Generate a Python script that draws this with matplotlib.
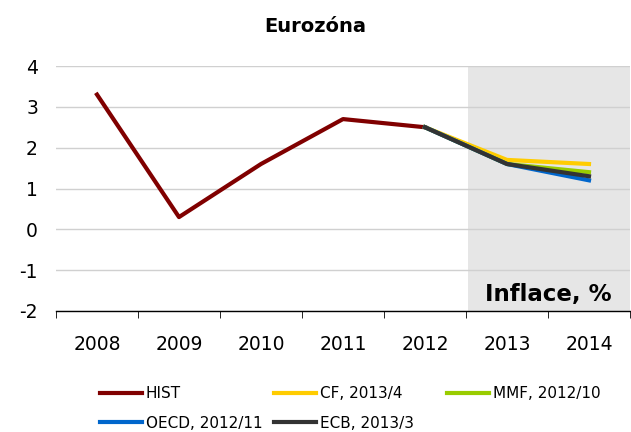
import matplotlib
matplotlib.use("Agg")
import matplotlib.pyplot as plt

years = ["2008", "2009", "2010", "2011", "2012", "2013", "2014"]
hist = [3.3, 0.3, 1.6, 2.7, 2.5]
fc_years = ["2012", "2013", "2014"]
cf = [2.5, 1.7, 1.6]
mmf = [2.5, 1.6, 1.4]
oecd = [2.5, 1.6, 1.2]
ecb = [2.5, 1.6, 1.3]

plt.rcParams['font.family'] = ['DejaVu Sans']

fig = plt.figure(figsize=(6.31, 4.32), dpi=100)
ax = fig.add_axes([56/631, 1-311/432, (630-56)/631, (311-66)/432])

x = list(range(len(years)))
xf = [years.index(y) for y in fc_years]

ax.axvspan(4.52, 6.5, color="#e6e6e6", zorder=0, lw=0)

lw = 3
h_hist, = ax.plot(x[:len(hist)], hist, color="#800000", lw=lw, label="HIST", zorder=3)
h_cf, = ax.plot(xf, cf, color="#ffcc00", lw=lw, label="CF, 2013/4", zorder=4)
h_mmf, = ax.plot(xf, mmf, color="#99cc00", lw=lw, label="MMF, 2012/10", zorder=5)
h_oecd, = ax.plot(xf, oecd, color="#0066cc", lw=lw, label="OECD, 2012/11", zorder=6)
h_ecb, = ax.plot(xf, ecb, color="#333333", lw=lw, label="ECB, 2013/3", zorder=7)

ax.set_xlim(-0.5, 6.5)
ax.set_ylim(-2, 4)
ax.set_yticks(range(-2, 5))
ax.set_yticklabels([str(v) for v in range(-2, 5)])
ax.yaxis.grid(True, color="#d0d0d0", lw=1)
ax.set_axisbelow(True)
ax.tick_params(axis='y', length=0, labelsize=13.5, pad=13)

ax.set_xticks(x)
ax.set_xticklabels(years)
ax.set_xticks([i - 0.5 for i in range(len(years) + 1)], minor=True)
ax.tick_params(axis='x', which='major', length=0, labelsize=13.5, pad=17)
ax.tick_params(axis='x', which='minor', length=5, color="black", direction='out')

for s in ["left", "right", "top"]:
    ax.spines[s].set_visible(False)
ax.spines["bottom"].set_color("black")
ax.spines["bottom"].set_linewidth(1)
ax.spines["bottom"].set_zorder(10)

ax.text(612/631, 1-294/432, "Inflace, %", transform=fig.transFigure, ha="right", va="center",
        fontsize=16.5, fontweight="bold", zorder=8)

fig.text(0.5, 1-26/432, "Eurozóna", ha="center", va="center", fontsize=14, fontweight="bold")

cols = [([h_hist, h_oecd], 100), ([h_cf, h_ecb], 274), ([h_mmf], 447)]
for hs, xpos in cols:
    lg = fig.legend(handles=hs, labels=[h.get_label() for h in hs], ncol=1,
                    loc="upper left", bbox_to_anchor=(xpos/631, 1-386/432), frameon=False,
                    fontsize=11, handlelength=2.75, handletextpad=0.25,
                    labelspacing=0.95, borderaxespad=0, borderpad=0)

fig.savefig("out.png", dpi=100)
